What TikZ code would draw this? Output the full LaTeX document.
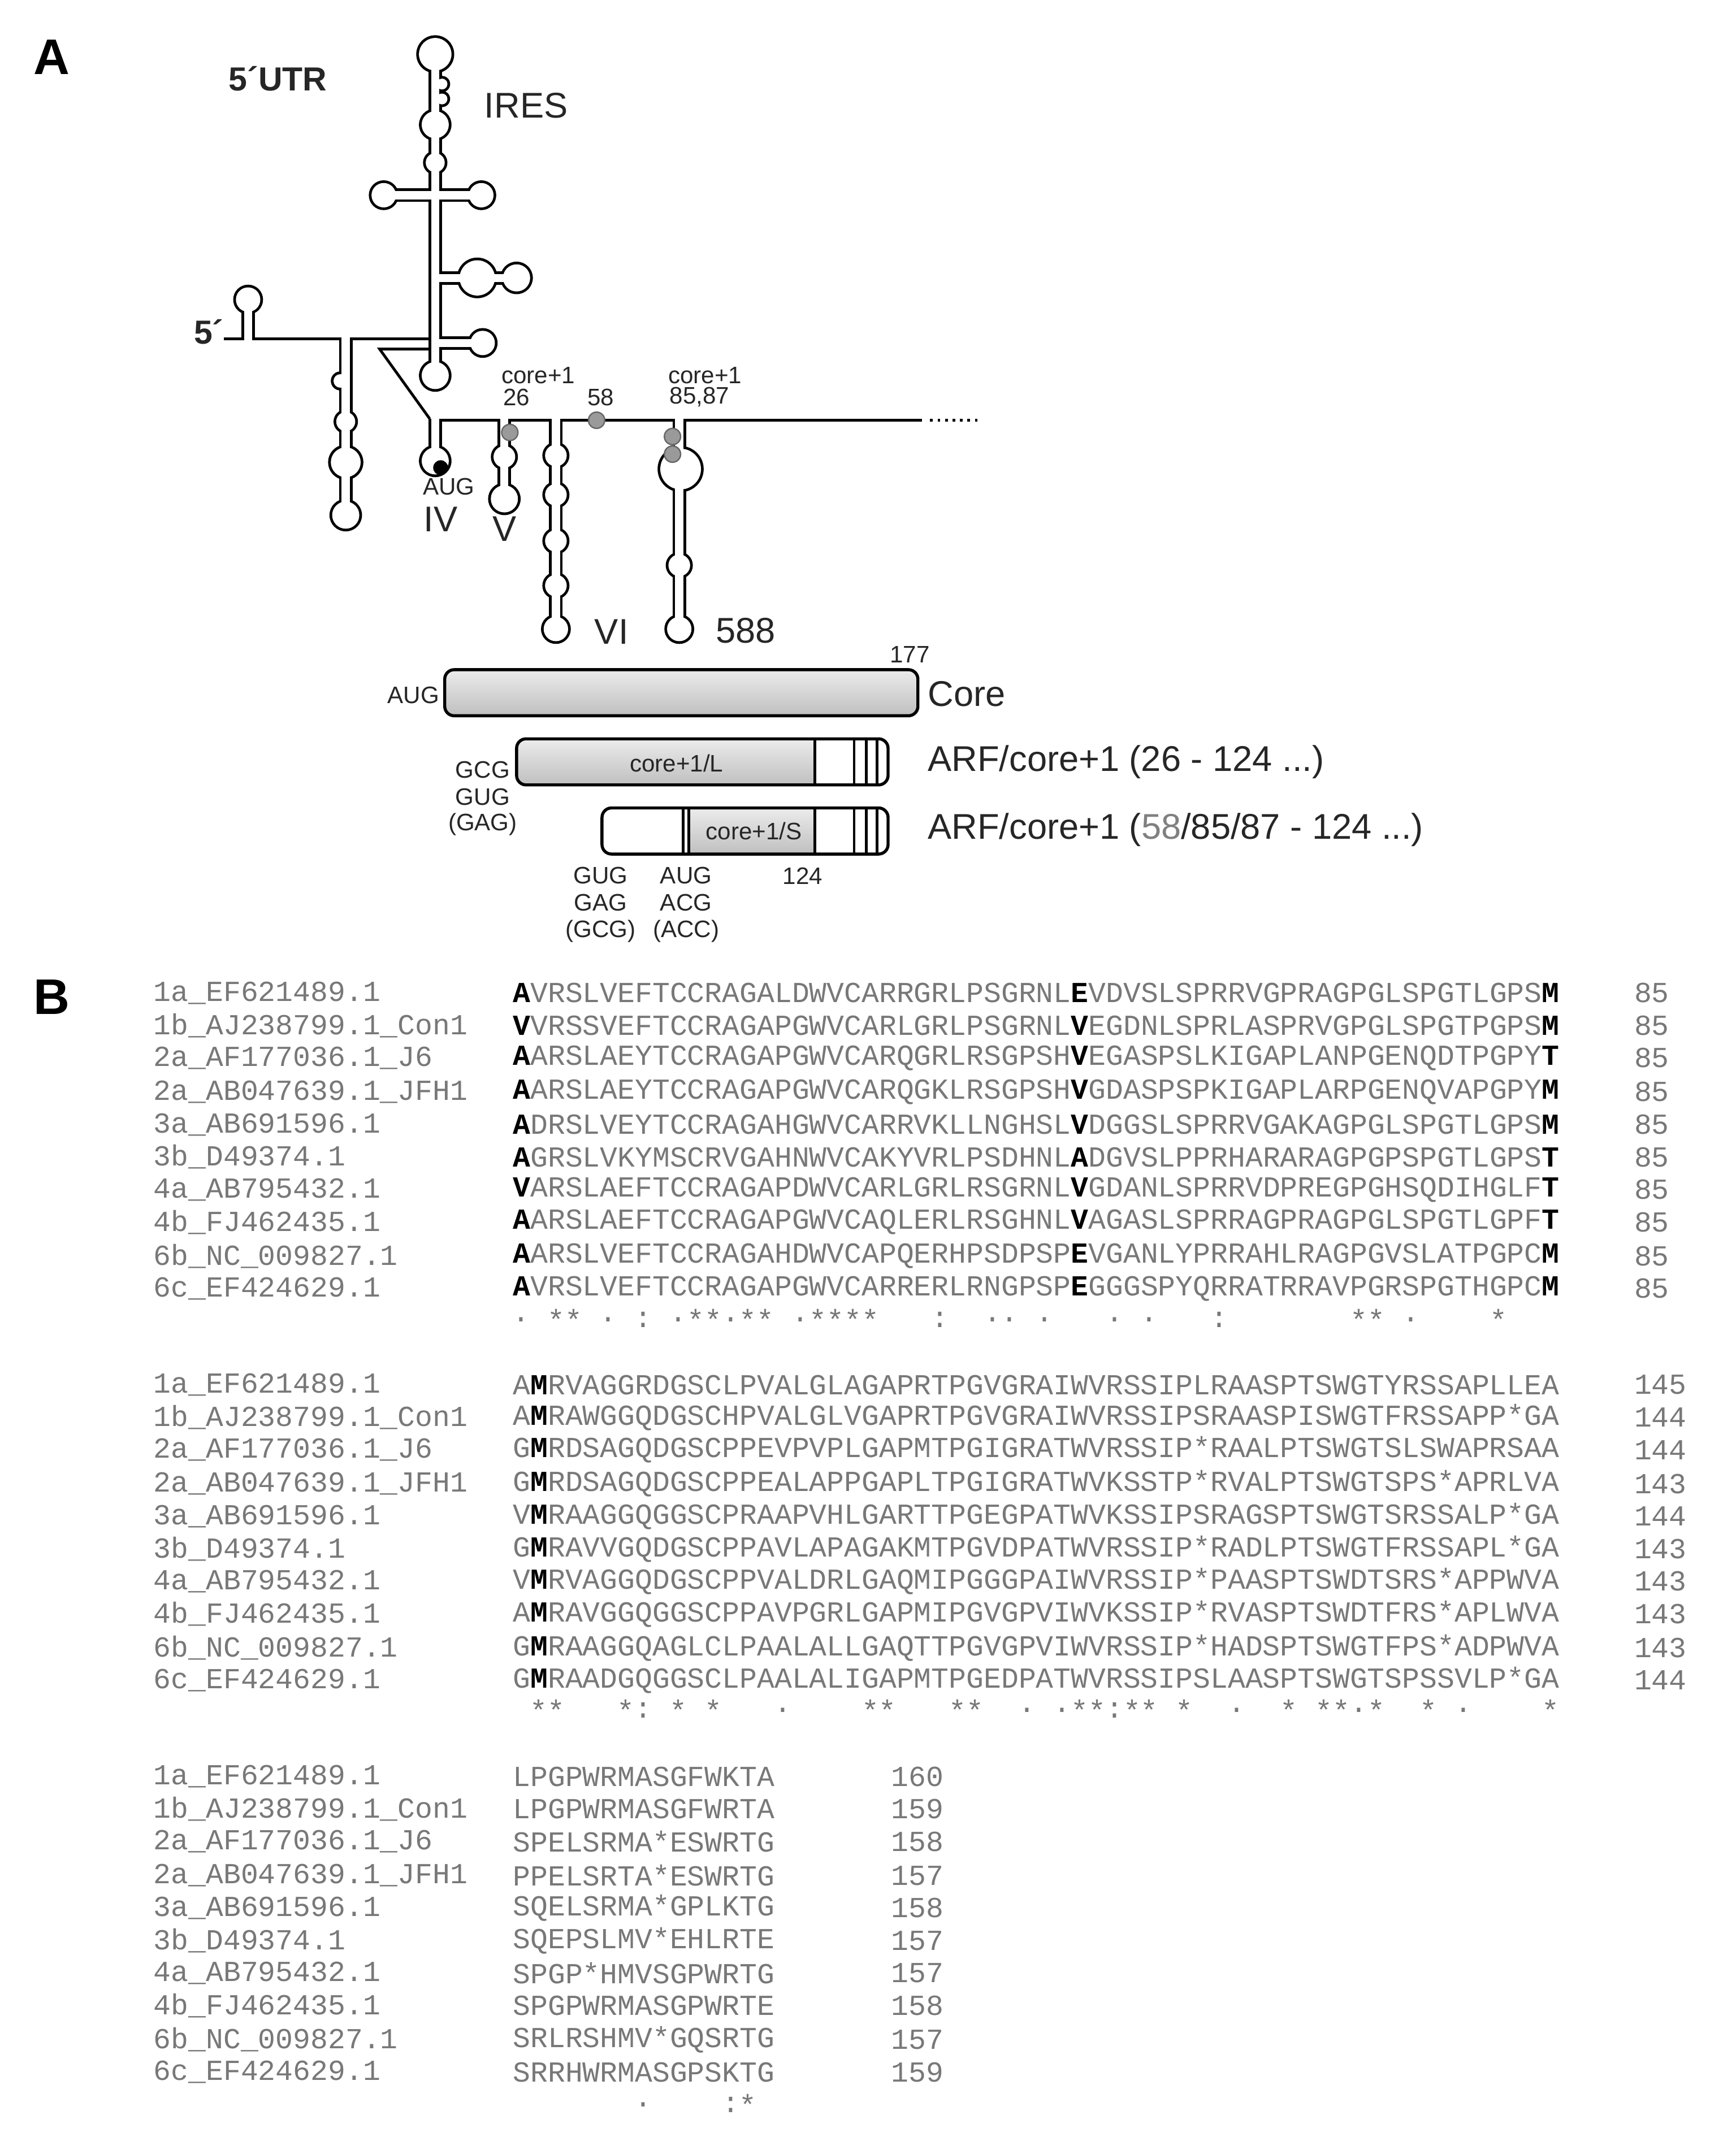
\documentclass[tikz,border=0pt]{standalone}
\usepackage{fontspec}
\setmainfont{Liberation Sans}
\newfontfamily\mono{Liberation Mono}
\definecolor{seqgray}{HTML}{787878}
\definecolor{dotgray}{HTML}{9A9A9A}
\begin{document}
\begin{tikzpicture}[x=0.02cm,y=-0.02cm,
  nm/.style={anchor=west,inner sep=0,text=seqgray,font=\mono\fontsize{12.2}{14}\selectfont},
  sq/.style={nm},
  cs/.style={inner sep=0,text=seqgray,font=\mono\fontsize{12.2}{14}\selectfont},
  sm/.style={inner sep=0,font=\fontsize{10}{12}\selectfont,text=black!85},
  bg/.style={inner sep=0,font=\fontsize{15}{18}\selectfont,text=black!85},
  bx/.style={line width=0.045cm,rounded corners=0.14cm},
  gr/.style={top color=gray!15,bottom color=gray!50},
  ln/.style={line width=0.04cm}]
\useasboundingbox (0,0) rectangle (1280,1586);
\fill[white] (0,0) rectangle (1280,1586);

% ---------- RNA structure: two passes ----------
\newcommand\rnastruct[3]{%
 \begin{scope}[draw=#1,fill=#1,line width=#2]
  \draw (321,40)--(321,277);
  \draw (283,144)--(355,144);
  \draw (321,205)--(381,205);
  \draw (321,253)--(356,253);
  \draw (183,251)--(183,221);
  \draw (255,249)--(255,380);
  \draw (321,309)--(321,340);
  \draw (372,309)--(372,368);
  \draw (410,309)--(410,464);
  \draw (501,309)--(501,464);
  \foreach \cx/\cy/\r in {321/40/13,326/62/5,326/73/5,321/92/11,321/120/8,283/144/10,355/144/10,
     352/205/14,381/205/11,356/253/10,321/277/11,183/221/10,251/281/6,255/311/8,255/341/12,
     255/380/11,321/340/11,372/337/9,372/368/11,410/336/9,410/365/9,410/399/9,410/432/9,
     410/464/10,502/346/16,501/417/9,501/464/10}
     \fill (\cx,\cy) circle[radius=\r*0.02cm#3];
 \end{scope}}
\rnastruct{black}{0.2cm}{+0.02cm}
% single backbone lines
\draw[ln] (165,250)--(317,250);
\draw[ln] (317,257.5)--(280,257.5)--(317,309);
\draw[ln] (317,310)--(680,310);
\draw[ln,dash pattern=on 0.04cm off 0.07cm] (686,310)--(724,310);
\rnastruct{white}{0.12cm}{-0.02cm}
% marked positions
\fill[black] (325,345) circle[radius=0.11cm];
\foreach \cx/\cy in {376/319,440/310,496/322,496/335}
  \draw[fill=dotgray,draw=black!60,line width=0.02cm] (\cx,\cy) circle[radius=0.12cm];

% ---------- labels A ----------
\node[inner sep=0,font=\bfseries\fontsize{21}{24}\selectfont] (lA) at (38,42) {A};
\node[inner sep=0,font=\bfseries\fontsize{14}{16}\selectfont,text=black!85] (utr) at (205,58) {5´UTR};
\node[bg] (ires) at (388,78) {IRES};
\node[inner sep=0,font=\bfseries\fontsize{14}{16}\selectfont,text=black!85] (five) at (154,245) {5´};
\node[sm] (c1a) at (397,277) {core+1};
\node[sm] (p26) at (381,293) {26};
\node[sm] (p58) at (443,293) {58};
\node[sm] (c1b) at (520,277) {core+1};
\node[sm] (p85) at (516,293) {85,87};
\node[sm] (aug1) at (331,359) {AUG};
\node[bg] (iv) at (325,383) {IV};
\node[bg] (v) at (372,390) {V};
\node[bg] (vi) at (451,466) {VI};
\node[bg] (s588) at (550,465) {588};

% ---------- protein bars ----------
\draw[bx,gr] (328,494) rectangle (677,528);
\node[sm] (aug2) at (305,513) {AUG};
\node[sm] (n177) at (671,483) {177};
\node[bg,anchor=west] (core) at (684,512) {Core};

\begin{scope}\clip (375,540) rectangle (601,585);
\shade[bx,gr] (381,545) rectangle (655,579);\end{scope}
\draw[bx] (381,545) rectangle (655,579);
\foreach \lx in {601,630,639,647} \draw[line width=0.04cm] (\lx,545)--(\lx,579);
\node[sm] (cL) at (499,563) {core+1/L};
\node[sm] (gcg1) at (356,568) {GCG};
\node[sm] (gug1) at (356,588) {GUG};
\node[sm] (gag1) at (356,608) {(GAG)};
\node[bg,anchor=west] (arf1) at (684,562) {ARF/core+1 (26 - 124 ...)};

\begin{scope}\clip (508,590) rectangle (601,636);
\shade[bx,gr] (444,596) rectangle (655,630);\end{scope}
\draw[bx] (444,596) rectangle (655,630);
\foreach \lx in {504,508,601,630,639,647} \draw[line width=0.04cm] (\lx,596)--(\lx,630);
\node[sm] (cS) at (556,613) {core+1/S};
\node[sm] (gug2) at (443,646) {GUG};
\node[sm] (gag2) at (443,666) {GAG};
\node[sm] (gcg2) at (443,687) {(GCG)};
\node[sm] (aug3) at (506,646) {AUG};
\node[sm] (acg) at (506,666) {ACG};
\node[sm] (acc) at (506,687) {(ACC)};
\node[sm] (n124) at (592,646) {124};
\node[bg,anchor=west] (arf2) at (684,612) {ARF/core+1 (\textcolor{gray}{58}/85/87 - 124 ...)};

% ---------- B alignment ----------
\begin{scope}[yshift=-0.15cm]
\node[inner sep=0,font=\bfseries\fontsize{21}{24}\selectfont] (lB) at (38,728) {B};
\newcommand\B[1]{\textcolor{black}{\bfseries #1}}
\newcommand\arow[8]{\node[nm] (na#1) at (113,#1) {#2};
  \node[sq] (sa#1) at (378,#1) {\B{#3}#4\B{#5}#6\B{#7}};
  \node[nm] (ca#1) at (1205,#1) {#8};}
\newcommand\brow[5]{\node[nm] (nb#1) at (113,#1) {#2};
  \node[sq] (sb#1) at (378,#1) {#3\B{M}#4};
  \node[nm] (cb#1) at (1205,#1) {#5};}
\newcommand\crow[4]{\node[nm] (nc#1) at (113,#1) {#2};
  \node[sq] (sc#1) at (378,#1) {#3};
  \node[nm] (cc#1) at (657,#1) {#4};}

\arow{725}{1a\_EF621489.1}{A}{VRSLVEFTCCRAGALDWVCARRGRLPSGRNL}{E}{VDVSLSPRRVGPRAGPGLSPGTLGPS}{M}{85}
\arow{749}{1b\_AJ238799.1\_Con1}{V}{VRSSVEFTCCRAGAPGWVCARLGRLPSGRNL}{V}{EGDNLSPRLASPRVGPGLSPGTPGPS}{M}{85}
\arow{773}{2a\_AF177036.1\_J6}{A}{ARSLAEYTCCRAGAPGWVCARQGRLRSGPSH}{V}{EGASPSLKIGAPLANPGENQDTPGPY}{T}{85}
\arow{798}{2a\_AB047639.1\_JFH1}{A}{ARSLAEYTCCRAGAPGWVCARQGKLRSGPSH}{V}{GDASPSPKIGAPLARPGENQVAPGPY}{M}{85}
\arow{822}{3a\_AB691596.1}{A}{DRSLVEYTCCRAGAHGWVCARRVKLLNGHSL}{V}{DGGSLSPRRVGAKAGPGLSPGTLGPS}{M}{85}
\arow{846}{3b\_D49374.1}{A}{GRSLVKYMSCRVGAHNWVCAKYVRLPSDHNL}{A}{DGVSLPPRHARARAGPGPSPGTLGPS}{T}{85}
\arow{870}{4a\_AB795432.1}{V}{ARSLAEFTCCRAGAPDWVCARLGRLRSGRNL}{V}{GDANLSPRRVDPREGPGHSQDIHGLF}{T}{85}
\arow{894}{4b\_FJ462435.1}{A}{ARSLAEFTCCRAGAPGWVCAQLERLRSGHNL}{V}{AGASLSPRRAGPRAGPGLSPGTLGPF}{T}{85}
\arow{919}{6b\_NC\_009827.1}{A}{ARSLVEFTCCRAGAHDWVCAPQERHPSDPSP}{E}{VGANLYPRRAHLRAGPGVSLATPGPC}{M}{85}
\arow{943}{6c\_EF424629.1}{A}{VRSLVEFTCCRAGAPGWVCARRERLRNGPSP}{E}{GGGSPYQRRATRRAVPGRSPGTHGPC}{M}{85}
\foreach \c/\s in {0/.,2/*,3/*,5/.,7/:,9/.,10/*,11/*,12/.,13/*,14/*,16/.,17/*,18/*,19/*,20/*,24/:,27/.,28/.,30/.,34/.,36/.,40/:,48/*,49/*,51/.,56/*}
  \node[cs] (kA\c) at ({378+12.87*(\c+0.5)},966) {\s};

\brow{1014}{1a\_EF621489.1}{A}{RVAGGRDGSCLPVALGLAGAPRTPGVGRAIWVRSSIPLRAASPTSWGTYRSSAPLLEA}{145}
\brow{1038}{1b\_AJ238799.1\_Con1}{A}{RAWGGQDGSCHPVALGLVGAPRTPGVGRAIWVRSSIPSRAASPISWGTFRSSAPP*GA}{144}
\brow{1062}{2a\_AF177036.1\_J6}{G}{RDSAGQDGSCPPEVPVPLGAPMTPGIGRATWVRSSIP*RAALPTSWGTSLSWAPRSAA}{144}
\brow{1087}{2a\_AB047639.1\_JFH1}{G}{RDSAGQDGSCPPEALAPPGAPLTPGIGRATWVKSSTP*RVALPTSWGTSPS*APRLVA}{143}
\brow{1111}{3a\_AB691596.1}{V}{RAAGGQGGSCPRAAPVHLGARTTPGEGPATWVKSSIPSRAGSPTSWGTSRSSALP*GA}{144}
\brow{1135}{3b\_D49374.1}{G}{RAVVGQDGSCPPAVLAPAGAKMTPGVDPATWVRSSIP*RADLPTSWGTFRSSAPL*GA}{143}
\brow{1159}{4a\_AB795432.1}{V}{RVAGGQDGSCPPVALDRLGAQMIPGGGPAIWVRSSIP*PAASPTSWDTSRS*APPWVA}{143}
\brow{1183}{4b\_FJ462435.1}{A}{RAVGGQGGSCPPAVPGRLGAPMIPGVGPVIWVKSSIP*RVASPTSWDTFRS*APLWVA}{143}
\brow{1208}{6b\_NC\_009827.1}{G}{RAAGGQAGLCLPAALALLGAQTTPGVGPVIWVRSSIP*HADSPTSWGTFPS*ADPWVA}{143}
\brow{1232}{6c\_EF424629.1}{G}{RAADGQGGSCLPAALALIGAPMTPGEDPATWVRSSIPSLAASPTSWGTSPSSVLP*GA}{144}
\foreach \c/\s in {1/*,2/*,6/*,7/:,9/*,11/*,15/.,20/*,21/*,25/*,26/*,29/.,31/.,32/*,33/*,34/:,35/*,36/*,38/*,41/.,44/*,46/*,47/*,48/.,49/*,52/*,54/.,59/*}
  \node[cs] (kB\c) at ({378+12.87*(\c+0.5)},1254) {\s};

\crow{1303}{1a\_EF621489.1}{LPGPWRMASGFWKTA}{160}
\crow{1327}{1b\_AJ238799.1\_Con1}{LPGPWRMASGFWRTA}{159}
\crow{1351}{2a\_AF177036.1\_J6}{SPELSRMA*ESWRTG}{158}
\crow{1376}{2a\_AB047639.1\_JFH1}{PPELSRTA*ESWRTG}{157}
\crow{1400}{3a\_AB691596.1}{SQELSRMA*GPLKTG}{158}
\crow{1424}{3b\_D49374.1}{SQEPSLMV*EHLRTE}{157}
\crow{1448}{4a\_AB795432.1}{SPGP*HMVSGPWRTG}{157}
\crow{1472}{4b\_FJ462435.1}{SPGPWRMASGPWRTE}{158}
\crow{1497}{6b\_NC\_009827.1}{SRLRSHMV*GQSRTG}{157}
\crow{1521}{6c\_EF424629.1}{SRRHWRMASGPSKTG}{159}
\foreach \c/\s in {7/.,12/:,13/*}
  \node[cs] (kC\c) at ({378+12.87*(\c+0.5)},1545) {\s};
\end{scope}
\end{tikzpicture}
\end{document}
